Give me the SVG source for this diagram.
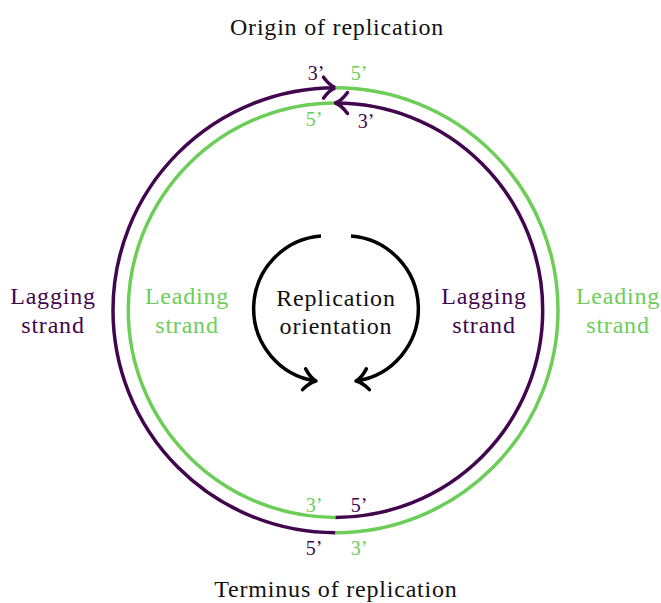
<svg xmlns="http://www.w3.org/2000/svg" width="661" height="603" viewBox="0 0 661 603">
<style>
text{font-family:"Liberation Serif","Times New Roman",serif;}
.lbl{font-size:24px;letter-spacing:0.8px;text-anchor:middle;}
.end{font-size:20px;text-anchor:middle;}
.pu{fill:#42064f;}
.gr{fill:#6cce58;}
.bk{fill:#111111;}
.sp{fill:none;stroke:#42064f;stroke-width:3.5;}
.sg{fill:none;stroke:#6cce58;stroke-width:3.5;}
.sb{fill:none;stroke:#000000;stroke-width:3.5;}
</style>
<defs>
<marker id="ahp" markerUnits="userSpaceOnUse" markerWidth="40" markerHeight="40" viewBox="-20 -20 40 40" refX="0" refY="0" orient="auto" overflow="visible">
<path d="M -12 -10.5 C -8 -5 -4 -1.5 0 0 C -4 1.5 -8 5 -12 10.5" fill="none" stroke="#42064f" stroke-width="3.5" stroke-linecap="round" stroke-linejoin="round"/>
</marker>
<marker id="ahb" markerUnits="userSpaceOnUse" markerWidth="40" markerHeight="40" viewBox="-20 -20 40 40" refX="0" refY="0" orient="auto" overflow="visible">
<path d="M -12 -10.5 C -8 -5 -4 -1.5 0 0 C -4 1.5 -8 5 -12 10.5" fill="none" stroke="#000000" stroke-width="3.5" stroke-linecap="round" stroke-linejoin="round"/>
</marker>
</defs>
<g id="connectors">
<path id="outer-lagging" class="sp" d="M 335.5 532.7 A 222.5 222.5 0 0 1 335.5 87.7" marker-end="url(#ahp)"/>
<path id="outer-leading" class="sg" d="M 335.5 87.7 A 222.5 222.5 0 0 1 335.5 532.7"/>
<path id="inner-leading" class="sg" d="M 335.5 103 A 207.2 207.2 0 0 0 335.5 517.4"/>
<path id="inner-lagging" class="sp" d="M 335.5 517.4 A 207.2 207.2 0 0 0 335.5 103" marker-end="url(#ahp)"/>
<path id="orient-left" class="sb" d="M 321 236 A 73 73 0 0 0 316 381" marker-end="url(#ahb)"/>
<path id="orient-right" class="sb" d="M 351 236 A 73 73 0 0 1 356 381" marker-end="url(#ahb)"/>
</g>
<g id="origin">
<text class="lbl bk" x="337" y="35">Origin of replication</text>
<text class="end pu" x="316" y="80">3’</text>
<text class="end gr" x="359" y="80">5’</text>
<text class="end gr" x="314" y="126">5’</text>
<text class="end pu" x="366" y="128">3’</text>
</g>
<g id="terminus">
<text class="lbl bk" x="336" y="597">Terminus of replication</text>
<text class="end gr" x="314" y="512">3’</text>
<text class="end pu" x="359" y="512">5’</text>
<text class="end pu" x="314" y="555">5’</text>
<text class="end gr" x="359" y="555">3’</text>
</g>
<g id="left-lagging">
<text class="lbl pu" x="53" y="304">Lagging</text>
<text class="lbl pu" x="53" y="333">strand</text>
</g>
<g id="left-leading">
<text class="lbl gr" x="187" y="304">Leading</text>
<text class="lbl gr" x="187" y="333">strand</text>
</g>
<g id="right-lagging">
<text class="lbl pu" x="484" y="304">Lagging</text>
<text class="lbl pu" x="484" y="333">strand</text>
</g>
<g id="right-leading">
<text class="lbl gr" x="618" y="304">Leading</text>
<text class="lbl gr" x="618" y="333">strand</text>
</g>
<g id="orientation">
<text class="lbl bk" x="336" y="306">Replication</text>
<text class="lbl bk" x="336" y="334">orientation</text>
</g>
</svg>
